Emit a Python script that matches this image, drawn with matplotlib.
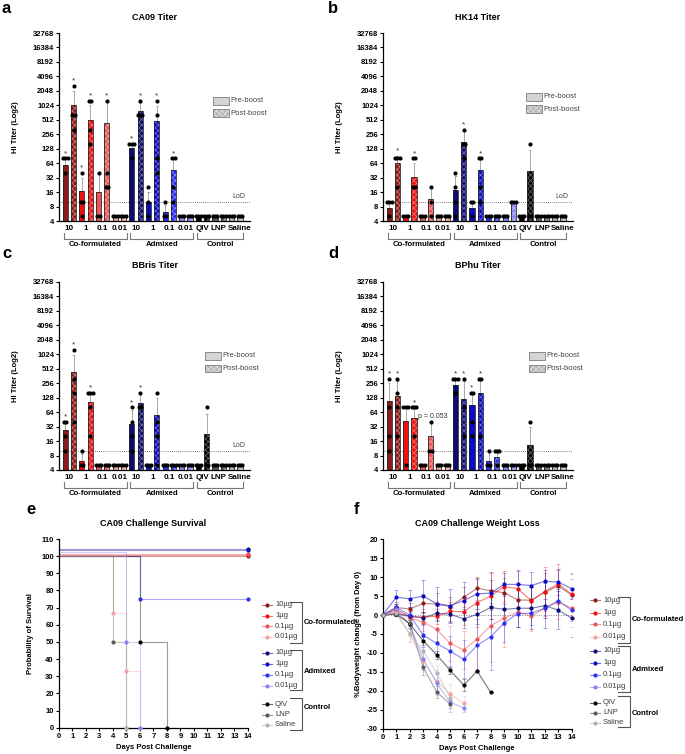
import numpy as np
import matplotlib
matplotlib.use('Agg')
import matplotlib.pyplot as plt
from matplotlib.patches import Rectangle
from matplotlib.lines import Line2D

plt.rcParams['font.family'] = ['Liberation Sans', 'DejaVu Sans']
plt.rcParams['axes.unicode_minus'] = False
plt.rcParams['hatch.linewidth'] = 0.5

W, H = 685, 754

# ---------------- data: HI titers (22 bars: pre/post per group) ----------------
dose_labels = ['10', '1', '0.1', '0.01', '10', '1', '0.1', '0.01', 'QIV', 'LNP', 'Saline']
group_names = ['Co-formulated', 'Admixed', 'Control']
group_colors = ['#8E1B1B', '#F01010', '#EE5555', '#F4A3A3',
                '#0B0B72', '#0A0AC8', '#2C2CF5', '#8585F6',
                '#000000', '#5A5A5A', '#B4B4B4']

ca09_mean = [58, 1024, 17, 516, 16, 440, 5, 5, 135, 780, 10, 484, 6.2, 46, 5, 5, 5, 5, 5, 5, 5, 5]
ca09_top = [80, 2000, 32, 1024, 40, 1280, 5, 5, 160, 1150, 16, 1000, 8.5, 80, 5, 5, 5, 5, 5, 5, 5, 5]
ca09_pts = [[80, 80, 80, 40], [2560, 640, 640, 320], [40, 10, 10, 5], [1280, 1280, 320, 160],
            [40, 5, 5], [1280, 40, 20, 20], [5, 5, 5], [5, 5, 5],
            [160, 160, 160, 80], [1280, 640, 640, 640], [20, 10, 5], [1280, 640, 80, 40],
            [10, 5, 5], [80, 80, 20, 10], [5, 5, 5], [5, 5, 5],
            [5, 5, 5], [5, 5, 5], [5, 5, 5], [5, 5, 5], [5, 5, 5], [5, 5, 5]]
ca09_star = [1, 1, 1, 1, 0, 1, 0, 0, 1, 1, 0, 1, 0, 1, 0, 0, 0, 0, 0, 0, 0, 0]

hk14_mean = [7.3, 64, 5, 33, 5, 11.4, 5, 5, 18, 176, 7.3, 46, 5, 5, 5, 10, 5, 43, 5, 5, 5, 5]
hk14_top = [10, 90, 5, 64, 5, 20, 5, 5, 34, 300, 10, 80, 5, 5, 5, 10, 5, 120, 5, 5, 5, 5]
hk14_pts = [[10, 10, 10, 5], [80, 80, 80, 20], [5, 5, 5], [80, 80, 20, 20],
            [5, 5, 5], [20, 10, 5], [5, 5, 5], [5, 5, 5],
            [40, 20, 10, 5], [320, 160, 160, 80], [10, 10, 5], [80, 80, 20, 10],
            [5, 5, 5], [5, 5, 5], [5, 5, 5], [10, 10, 10],
            [5, 5, 5], [160, 5, 5], [5, 5, 5], [5, 5, 5], [5, 5, 5], [5, 5, 5]]
hk14_star = [0, 1, 0, 1, 0, 0, 0, 0, 0, 1, 0, 1, 0, 0, 0, 0, 0, 0, 0, 0, 0, 0]

bbris_mean = [27, 440, 6.2, 102, 5, 5, 5, 5, 36, 97, 5, 55, 5, 5, 5, 5, 5, 23, 5, 5, 5, 5]
bbris_top = [40, 1000, 8.5, 160, 5, 5, 5, 5, 70, 150, 5, 128, 5, 5, 5, 5, 5, 60, 5, 5, 5, 5]
bbris_pts = [[40, 40, 20, 10], [1280, 320, 160, 40], [10, 5, 5], [160, 160, 160, 80, 20],
             [5, 5, 5], [5, 5, 5], [5, 5, 5], [5, 5, 5],
             [80, 40, 20, 10], [160, 80, 80], [5, 5, 5], [160, 40, 20, 5],
             [5, 5, 5], [5, 5, 5], [5, 5, 5], [5, 5, 5],
             [5, 5, 5], [80, 5, 5], [5, 5, 5], [5, 5, 5], [5, 5, 5], [5, 5, 5]]
bbris_star = [1, 1, 0, 1, 0, 0, 0, 0, 1, 1, 0, 0, 0, 0, 0, 0, 0, 0, 0, 0, 0, 0]

bphu_mean = [108, 140, 42, 49, 5, 20, 5, 5, 232, 123, 92, 164, 6.2, 7.3, 5, 5, 5, 13, 5, 5, 5, 5]
bphu_top = [256, 280, 80, 80, 5, 40, 5, 5, 320, 280, 160, 320, 10, 10, 5, 5, 5, 32, 5, 5, 5, 5]
bphu_pts = [[320, 80, 20, 10], [320, 160, 80, 20], [80, 80, 80, 5], [80, 80, 80, 20],
            [5, 5, 5], [40, 10, 10], [5, 5, 5], [5, 5, 5],
            [320, 320, 320, 160], [320, 80, 20], [160, 160, 40, 20], [320, 320, 20],
            [10, 5, 5], [10, 10, 10, 5], [5, 5, 5], [5, 5, 5],
            [5, 5, 5], [40, 5, 5], [5, 5, 5], [5, 5, 5], [5, 5, 5], [5, 5, 5]]
bphu_star = [1, 1, 0, 1, 0, 0, 0, 0, 1, 1, 1, 1, 0, 0, 0, 0, 0, 0, 0, 0, 0, 0]

titer_ticks = [4, 8, 16, 32, 64, 128, 256, 512, 1024, 2048, 4096, 8192, 16384, 32768]
lod = 10

# ---------------- data: survival ----------------
legend_labels = ['10µg', '1µg', '0.1µg', '0.01µg', '10µg', '1µg', '0.1µg', '0.01µg', 'QIV', 'LNP', 'Saline']
surv_days = [[0, 14], [0, 14], [0, 14], [0, 4, 5, 6],
             [0, 14], [0, 14], [0, 6, 14], [0, 5, 6],
             [0, 6, 8], [0, 4, 5], [0, 5]]
surv_pct = [[100, 100], [100, 100], [100, 100], [100, 66.7, 33.3, 0],
            [100, 100], [100, 100], [100, 75, 75], [100, 50, 0],
            [100, 50, 0], [100, 50, 0], [100, 0]]

# ---------------- data: weight change ----------------
wt_mean = [
    [0, 2.0, 1.6, 3.1, 2.9, 2.2, 4.7, 7.1, 6.4, 5.9, 4.0, 3.9, 6.0, 7.7, 5.3],
    [0, 1.5, -0.5, -0.5, -0.3, 1.0, 0.9, 3.3, 5.0, 7.5, 7.0, 3.8, 6.2, 8.2, 5.5],
    [0, 1.0, -0.8, -1.8, -3.8, -7.5, -9.2, -6.3, -2.8, -0.8, 0.8, -0.3, 1.8, 3.5, 1.8],
    [0, 0.5, -5.0, -12.0, -17.5, -20.8, -23.3],
    [0, 0.3, -0.2, -0.8, 0.5, 0.2, -1.0, 0.2, 2.0, 1.5, 1.8, 1.8, 2.5, 1.3, -0.8],
    [0, 4.7, 4.3, 5.0, 3.0, 2.5, 3.8, 5.6, 5.8, 8.1, 8.1, 7.8, 8.9, 8.7, 7.0],
    [0, 2.0, 0.0, -5.3, -7.5, -9.5, -11.7, -8.0, -5.7, -2.1, 0.4, 0.5, 1.8, 3.8, 1.3],
    [0, 1.5, -2.5, -11.5, -18.0, -23.0, -24.5],
    [0, 0.3, -2.3, -6.8, -10.5, -14.6, -18.5, -14.8, -20.4],
    [0, 0.3, -2.2, -13.8, -20.3, -23.5],
    [0, 0.5, -5.0, -9.5, -15.3, -21.8],
]
wt_sd = [
    [0, 0.8, 1.5, 2.5, 3.0, 2.5, 2.7, 3.0, 5.0, 4.0, 4.0, 4.0, 5.0, 4.3, 5.5],
    [0, 1.0, 1.5, 2.0, 2.0, 2.5, 3.5, 6.5, 6.0, 4.0, 4.5, 3.5, 6.5, 5.3, 5.5],
    [0, 1.0, 2.0, 2.5, 3.0, 4.5, 5.0, 8.0, 9.7, 7.5, 4.0, 4.0, 2.5, 4.5, 5.0],
    [0, 1.0, 2.0, 2.5, 3.0, 2.5, 2.0],
    [0, 0.5, 1.0, 1.5, 2.0, 2.0, 2.5, 2.5, 3.0, 4.0, 5.0, 5.5, 6.0, 5.0, 5.0],
    [0, 1.8, 2.3, 4.2, 4.3, 4.5, 5.0, 4.0, 3.5, 3.0, 3.8, 3.5, 3.0, 3.5, 2.5],
    [0, 1.5, 2.0, 3.0, 3.5, 4.0, 5.0, 7.0, 8.8, 5.0, 3.5, 3.0, 2.5, 3.0, 3.0],
    [0, 1.0, 2.0, 3.0, 3.0, 2.5, 1.0],
    [0, 0.5, 1.0, 1.0, 1.0, 1.0, 1.5, 0, 0],
    [0, 0.5, 1.5, 2.0, 1.5, 1.0],
    [0, 0.5, 2.0, 2.5, 2.0, 1.5],
]

fig = plt.figure(figsize=(W / 100, H / 100), dpi=100, facecolor='white')


def fx(x):
    return x / W


def fy(y):
    return 1 - y / H


def add_ax(left, top, right, bottom):
    return fig.add_axes([fx(left), fy(bottom), (right - left) / W, (bottom - top) / H])


def style_ax(ax):
    for s in ['top', 'right']:
        ax.spines[s].set_visible(False)
    for s in ['left', 'bottom']:
        ax.spines[s].set_linewidth(0.9)
    ax.tick_params(length=2.5, width=0.8, labelsize=5.5, pad=1)
    for lab in ax.get_xticklabels() + ax.get_yticklabels():
        lab.set_fontweight('bold')


def titer_panel(box, mean, top, pts, star, title, legend_px, lod_text=True, pval=None):
    ax = add_ax(*box)
    n = len(mean)
    x = np.arange(n)
    w = 0.62
    for i in range(n):
        c = group_colors[i // 2]
        ax.bar(x[i], mean[i] - 4, bottom=4, width=w, color=c, lw=0, zorder=2)
        if i % 2 == 1:
            ax.bar(x[i], mean[i] - 4, bottom=4, width=w, facecolor='none',
                   edgecolor=(1, 1, 1, 0.45), hatch='xxxxxx', lw=0, zorder=3)
        ax.bar(x[i], mean[i] - 4, bottom=4, width=w, facecolor='none',
               edgecolor='#262626', lw=0.6, zorder=4)
        if top[i] > mean[i]:
            ax.vlines(x[i], mean[i], top[i], color='#9a9a9a', lw=0.6, zorder=1)
            ax.hlines(top[i], x[i] - 0.15, x[i] + 0.15, color='#9a9a9a', lw=0.6, zorder=1)
        vals = pts[i]
        for v in sorted(set(vals)):
            k = vals.count(v)
            offs = (np.arange(k) - (k - 1) / 2) * 0.28
            ax.plot(x[i] + offs, [v] * k, 'o', color='black', ms=3, mew=0, zorder=5, clip_on=False)
        if star[i]:
            ytop = max(max(vals), top[i])
            ax.text(x[i], ytop * 1.08, '*', ha='center', va='bottom', fontsize=6, color='#333333')
    ax.set_yscale('log', base=2)
    ax.set_ylim(4, 32768)
    ax.set_xlim(-0.75, n + 0.2)
    ax.set_yticks(titer_ticks)
    ax.set_yticklabels([str(t) for t in titer_ticks])
    ax.yaxis.set_minor_locator(matplotlib.ticker.NullLocator())
    tick_x = np.arange(0, n, 2) + 0.5
    tick_x[-1] += 0.45
    tick_x[-2] -= 0.05
    ax.set_xticks(tick_x)
    ax.set_xticklabels(dose_labels)
    style_ax(ax)
    ax.tick_params(axis='x', length=0, pad=3, labelsize=5.8)
    ax.axhline(lod, color='#555555', lw=0.6, ls=(0, (1, 1.5)), zorder=1)
    if lod_text:
        ax.text(0.975, lod * 1.12, 'LoD', transform=ax.get_yaxis_transform(), ha='right',
                va='bottom', fontsize=5, color='#444444')
    if pval:
        ax.text(pval[0], pval[1], pval[2], ha='center', va='center', fontsize=5, color='#333333')
    ax.set_ylabel('HI Titer (Log2)', fontsize=5.5, fontweight='bold')
    ax.yaxis.set_label_coords(-40 / (box[2] - box[0]), 0.5)
    axh = box[3] - box[1]
    ax.text(0.5, 1 + 16 / axh, title, transform=ax.transAxes, ha='center', va='center',
            fontsize=6.5, fontweight='bold')
    # group brackets under x labels
    spans = [(0, 7), (8, 15), (16, 21)]
    tr = ax.get_xaxis_transform()
    yb0, yb1 = -12 / axh, -18 / axh
    for (a, b), name in zip(spans, group_names):
        xa, xb = a - 0.2, b + 0.4
        ax.plot([xa, xa, xb, xb], [yb0, yb1, yb1, yb0], color='#777777', lw=0.8,
                transform=tr, clip_on=False)
        ax.text((xa + xb) / 2, -24 / axh, name, transform=tr, ha='center', va='center',
                fontsize=5.6, fontweight='bold')
    # pre/post legend
    lx, ly = legend_px
    for j, (lab, hatched) in enumerate([('Pre-boost', False), ('Post-boost', True)]):
        yy = ly + j * 12.5
        fig.add_artist(Rectangle((fx(lx), fy(yy + 7.5)), 16 / W, 7.5 / H, transform=fig.transFigure,
                                 facecolor='#b8b8b8' if hatched else '#d4d4d4', edgecolor='none'))
        if hatched:
            fig.add_artist(Rectangle((fx(lx), fy(yy + 7.5)), 16 / W, 7.5 / H, transform=fig.transFigure,
                                     facecolor='none', edgecolor=(1, 1, 1, 0.6), hatch='xxxxxx', lw=0))
        fig.add_artist(Rectangle((fx(lx), fy(yy + 7.5)), 16 / W, 7.5 / H, transform=fig.transFigure,
                                 facecolor='none', edgecolor='#8a8a8a', lw=0.7))
        fig.text(fx(lx + 17), fy(yy + 3.75), lab, fontsize=5.5, va='center', color='#444444')
    return ax


titer_panel((59, 33, 250, 221), ca09_mean, ca09_top, ca09_pts, ca09_star, 'CA09 Titer', (213, 97))
titer_panel((383, 33, 573, 221), hk14_mean, hk14_top, hk14_pts, hk14_star, 'HK14 Titer', (526, 93))
titer_panel((59, 282, 250, 470), bbris_mean, bbris_top, bbris_pts, bbris_star, 'BBris Titer', (205, 352))
titer_panel((383, 282, 573, 470), bphu_mean, bphu_top, bphu_pts, bphu_star, 'BPhu Titer', (529, 352),
            lod_text=False, pval=(5.3, 51, 'p = 0.053'))


def side_legend(mx, rows, brackets, label_pos):
    for k, (y, lab) in enumerate(zip(rows, legend_labels)):
        c = group_colors[k]
        fig.add_artist(Line2D([fx(mx - 5), fx(mx + 5)], [fy(y)] * 2, color=c, lw=0.8, alpha=0.6))
        fig.add_artist(Line2D([fx(mx)], [fy(y)], marker='o', ms=3, mew=0, color=c, lw=0))
        fig.text(fx(mx + 8), fy(y), lab, fontsize=5.5, va='center', color='#3a3a3a')
    for (bx, y0, y1), (tx, ty), name in zip(brackets, label_pos, group_names):
        fig.add_artist(Line2D([fx(bx - 12), fx(bx), fx(bx), fx(bx - 12)],
                              [fy(y0), fy(y0), fy(y1), fy(y1)], color='#555555', lw=0.8))
        fig.text(fx(tx), fy(ty), name, fontsize=5.5, fontweight='bold', va='center')


# ---------------- panel e: survival ----------------
box_e = (58.7, 539, 248, 727.7)
ax = add_ax(*box_e)
offsets = [0, 0.7, 1.4, 1.4, 4.2, 3.4, 0.3, 2.4, 0, 0, 0]
for k in range(len(surv_days)):
    c = group_colors[k]
    t = np.array(surv_days[k])
    p = np.array(surv_pct[k], dtype=float)
    p = np.where(p == 100, p + offsets[k], p)
    ax.step(t, p, where='post', color=c, alpha=0.4, lw=0.8, clip_on=False, zorder=2)
    ax.plot(t[1:], p[1:], 'o', color=c, ms=3, mew=0, clip_on=False, zorder=4)
ax.set_xlim(0, 14)
ax.set_ylim(0, 110)
ax.set_xticks(range(0, 15))
ax.set_yticks(range(0, 111, 10))
style_ax(ax)
ax.set_xlabel('Days Post Challenge', fontsize=5.5, fontweight='bold', labelpad=3)
ax.set_ylabel('Probability of Survival', fontsize=5.5, fontweight='bold')
ax.yaxis.set_label_coords(-25 / (box_e[2] - box_e[0]), 0.5)
ax.text(0.5, 1 + 16 / (box_e[3] - box_e[1]), 'CA09 Challenge Survival', transform=ax.transAxes,
        ha='center', va='center', fontsize=6.5, fontweight='bold')
side_legend(267, [605, 615.5, 626, 637, 653, 663.5, 675, 685.5, 704, 715, 725],
            [(302, 602, 643), (302, 650, 690), (302, 698, 730)],
            [(304, 623), (304, 671.5), (304, 707.5)])

# ---------------- panel f: weight loss ----------------
box_f = (382.7, 539.3, 571.7, 728.7)
ax = add_ax(*box_f)
ax.axhline(0, color='#888888', lw=0.7, ls=(0, (1, 1.5)), zorder=1)
for k in range(len(wt_mean)):
    c = group_colors[k]
    d = np.arange(len(wt_mean[k]))
    ax.errorbar(d, wt_mean[k], yerr=wt_sd[k], fmt='none', ecolor=c, alpha=0.4,
                elinewidth=0.6, capsize=1.5, capthick=0.6, zorder=2)
    ax.plot(d, wt_mean[k], '-', color=c, alpha=0.55, lw=0.8, zorder=3)
    ax.plot(d, wt_mean[k], 'o', color=c, ms=3, mew=0, zorder=4, clip_on=False)
ax.set_xlim(0, 14)
ax.set_ylim(-30, 20)
ax.set_xticks(range(0, 15))
ax.set_yticks(range(-30, 21, 5))
style_ax(ax)
ax.set_xlabel('Days Post Challenge', fontsize=5.5, fontweight='bold', labelpad=3)
ax.set_ylabel('%Bodyweight change (from Day 0)', fontsize=5.5, fontweight='bold')
ax.yaxis.set_label_coords(-21 / (box_f[2] - box_f[0]), 0.5)
ax.text(0.5, 1 + 16 / (box_f[3] - box_f[1]), 'CA09 Challenge Weight Loss', transform=ax.transAxes,
        ha='center', va='center', fontsize=6.5, fontweight='bold')
side_legend(595, [600, 612.5, 624, 636.5, 651, 662.5, 675, 686.5, 702.5, 712.5, 722.5],
            [(629.5, 597, 643), (629.5, 646, 691.5), (629.5, 696, 727)],
            [(632, 619.5), (632, 669.5), (632, 713.5)])

# panel letters
for letter, (lx, ly) in zip('abcdef', [(2, 13), (328, 13), (2, 258), (328, 258), (26, 514), (354, 514)]):
    fig.text(fx(lx), fy(ly), letter, fontsize=12, fontweight='bold', va='baseline')

plt.savefig('out.png', dpi=100, facecolor='white')
